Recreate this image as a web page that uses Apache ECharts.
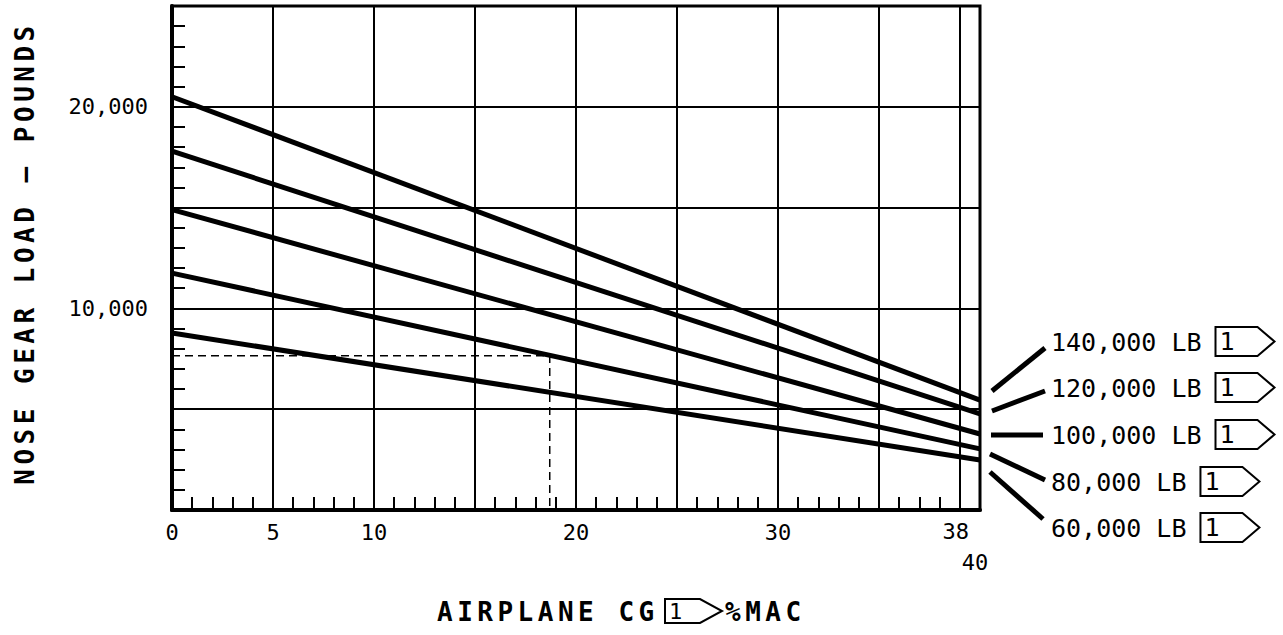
<!DOCTYPE html>
<html>
<head>
<meta charset="utf-8">
<title>Nose gear load</title>
<script src="https://cdn.jsdelivr.net/npm/echarts@6/dist/echarts.min.js"></script>
<style>
  html, body { margin: 0; padding: 0; background: #fff; }
  #main { width: 1283px; height: 635px; }
  /* only the two axis titles are bold: spread their letters like the drawing */
  #main text[style*="bold"] { letter-spacing: 4.5px; }
</style>
</head>
<body>
<div id="main"></div>
<script>
// airplane CG in %MAC
var cgPoints = [0, 40];
// nose gear load in pounds at cgPoints, one array per gross weight
var weights = ['140,000 LB', '120,000 LB', '100,000 LB', '80,000 LB', '60,000 LB'];
var load140 = [20500, 5450];
var load120 = [17800, 4770];
var load100 = [14900, 3770];
var load80 = [11750, 3030];
var load60 = [8780, 2480];
// dashed read-off example
var exampleCg = 18.7;
var exampleLoad = 7650;
// tick labels
var xLabelValues = [0, 5, 10, 20, 30, 40];
var yLabelValues = [10000, 20000];
var yLabelTexts = ['10,000', '20,000'];
// extra grid line near the right edge and its label
var extraGridCg = 39;
var extraGridText = '38';

var FONT = 'DejaVu Sans Mono';
var chart = echarts.init(document.getElementById('main'), null, { renderer: 'svg' });

var loads = [load140, load120, load100, load80, load60];
var series = loads.map(function (arr, i) {
    return {
        name: weights[i],
        type: 'line',
        symbol: 'none',
        silent: true,
        lineStyle: { color: '#000', width: 5 },
        data: cgPoints.map(function (x, j) { return [x, arr[j]]; })
    };
});

// dashed example + the extra grid line (markLine)
series.push({
    name: 'example',
    type: 'line',
    symbol: 'none',
    silent: true,
    lineStyle: { color: '#000', width: 1.5, type: [8, 5] },
    data: [[0, exampleLoad], [exampleCg, exampleLoad], [exampleCg, 0]],
    markLine: {
        silent: true,
        symbol: ['none', 'none'],
        lineStyle: { color: '#000', width: 2, type: 'solid' },
        label: {
            show: true, position: 'start', formatter: extraGridText,
            color: '#000', fontFamily: FONT, fontSize: 22, distance: 10, padding: [0, 8, 0, 0]
        },
        emphasis: { disabled: true },
        data: [{ xAxis: extraGridCg }]
    }
});

// right side labels, leader lines and note flags
var rowY = [342, 388, 435, 482, 528];
var leaders = [
    [992, 391, 1045, 348],
    [992, 411, 1045, 391],
    [991, 435, 1043, 435],
    [990, 454, 1045, 480],
    [990, 472, 1043, 519]
];

function flag(x0, cy, h, w, tip, fs) {
    return [{
        type: 'polygon',
        shape: { points: [[x0, cy - h / 2], [x0 + w, cy - h / 2], [x0 + w + tip, cy], [x0 + w, cy + h / 2], [x0, cy + h / 2]] },
        style: { fill: '#fff', stroke: '#000', lineWidth: 2 }
    }, {
        type: 'text', x: x0 + 4, y: cy,
        style: { text: '1', font: fs + 'px "' + FONT + '"', fill: '#000', textVerticalAlign: 'middle' }
    }];
}

var graphics = [];
weights.forEach(function (w, i) {
    graphics.push({
        type: 'line',
        shape: { x1: leaders[i][0], y1: leaders[i][1], x2: leaders[i][2], y2: leaders[i][3] },
        style: { stroke: '#000', lineWidth: 5 }
    });
    graphics.push({
        type: 'text', x: 1051, y: rowY[i],
        style: { text: w, font: '25px "' + FONT + '"', fill: '#000', textVerticalAlign: 'middle' }
    });
    graphics = graphics.concat(flag(1051 + w.length * 15.05 + 14, rowY[i] - 0.5, 29, 42, 17, 25));
});

// x axis title: AIRPLANE CG [1> %MAC
graphics.push({
    type: 'text', x: 437, y: 612,
    style: { text: 'AIRPLANE CG', font: 'bold 26px "' + FONT + '"', fill: '#000', textVerticalAlign: 'middle' }
});
graphics = graphics.concat(flag(665, 611, 24, 35, 22, 22));
graphics.push({
    type: 'text', x: 725, y: 612,
    style: { text: '%MAC', font: 'bold 26px "' + FONT + '"', fill: '#000', textVerticalAlign: 'middle' }
});
// y axis title
graphics.push({
    type: 'text', x: 25, y: 253, rotation: Math.PI / 2,
    style: { text: 'NOSE GEAR LOAD – POUNDS', font: 'bold 26px "' + FONT + '"', fill: '#000', textAlign: 'center', textVerticalAlign: 'middle' }
});

var option = {
    animation: false,
    backgroundColor: '#fff',
    grid: {
        left: 172, right: 303, top: 6, bottom: 125,
        show: true, borderColor: '#000', borderWidth: 3, backgroundColor: '#fff'
    },
    xAxis: {
        type: 'value', min: 0, max: 40, interval: 5,
        axisLine: { show: true, onZero: false, lineStyle: { color: '#000', width: 4 } },
        axisTick: { show: true, inside: true, length: 13, lineStyle: { color: '#000', width: 2 } },
        minorTick: { show: true, splitNumber: 5, length: 13, lineStyle: { color: '#000', width: 2 } },
        splitLine: { show: true, lineStyle: { color: '#000', width: 2 } },
        axisLabel: {
            color: '#000', fontFamily: FONT, fontSize: 22, margin: 11,
            formatter: function (v) {
                if (xLabelValues.indexOf(v) < 0) return '';
                return v === 40 ? '{last|' + v + '}' : String(v);
            },
            rich: {
                last: { fontFamily: FONT, fontSize: 22, color: '#000', padding: [30, 10, 0, 0] }
            }
        }
    },
    yAxis: {
        type: 'value', min: 0, max: 25000, interval: 5000,
        axisLine: { show: true, onZero: false, lineStyle: { color: '#000', width: 4 } },
        axisTick: { show: true, inside: true, length: 13, lineStyle: { color: '#000', width: 2 } },
        minorTick: { show: true, splitNumber: 5, length: 13, lineStyle: { color: '#000', width: 2 } },
        splitLine: { show: true, lineStyle: { color: '#000', width: 2 } },
        axisLabel: {
            color: '#000', fontFamily: FONT, fontSize: 22, margin: 24,
            formatter: function (v) {
                var k = yLabelValues.indexOf(v);
                return k < 0 ? '' : yLabelTexts[k];
            }
        }
    },
    series: series,
    graphic: graphics
};

chart.setOption(option);
</script>
</body>
</html>
